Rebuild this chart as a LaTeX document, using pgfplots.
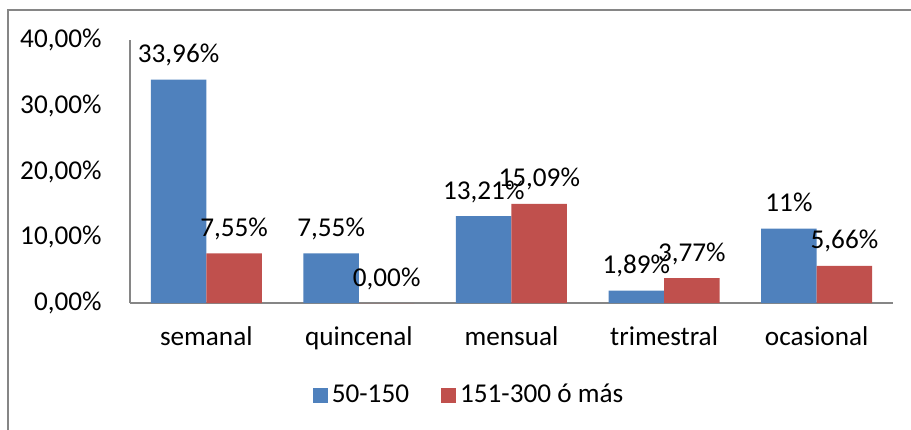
\documentclass[border=0pt]{standalone}
\usepackage{fontspec}
\setmainfont{Carlito}
\usepackage{pgfplots}
\pgfplotsset{compat=1.18}
\definecolor{cblue}{HTML}{4F81BD}
\definecolor{cred}{HTML}{C0504D}
\definecolor{cax}{HTML}{868686}
\newcommand{\fs}{\fontsize{13.6}{16}\selectfont}
\begin{document}
\begin{tikzpicture}
\useasboundingbox (0,0) rectangle (455.5pt,214.5pt);
\draw[cax, line width=0.6pt] (4pt,-20pt) -- (4pt,209.5pt) -- (480pt,209.5pt);
\begin{axis}[
 at={(65pt,63pt)}, anchor=south west,
 scale only axis, width=381.5pt, height=131.5pt,
 ybar=0pt, bar width=27.75pt,
 xmin=-0.5, xmax=4.5, ymin=0, ymax=40,
 xtick={0,1,2,3,4},
 xticklabels={semanal,quincenal,mensual,trimestral,ocasional},
 ytick={0,10,20,30,40},
 yticklabels={{0,00\%},{10,00\%},{20,00\%},{30,00\%},{40,00\%}},
 axis x line*=bottom, axis y line*=left,
 axis line style={cax, line width=0.75pt, -},
 major tick length=0pt,
 tick label style={font=\fs, text=black},
 yticklabel style={anchor=east, inner sep=0pt, xshift=-14pt},
 xticklabel style={anchor=base, inner sep=0pt, yshift=-21pt},
 nodes near coords, point meta=explicit symbolic,
 every node near coord/.append style={font=\fs, anchor=base, inner sep=0pt, yshift=8.5pt, text=black},
 legend columns=2,
 legend style={draw=none, at={(0.4456,-0.35)}, anchor=center, font=\fs,
   /tikz/every even column/.append style={column sep=14pt}},
 legend image code/.code={\fill[#1] (0pt,-3.75pt) rectangle (7.5pt,3.75pt);},
 clip=false,
]
\addplot[fill=cblue, draw=none] coordinates {
 (0,33.96) [33,96\%]
 (1,7.55) [7,55\%]
 (2,13.21) [13,21\%]
 (3,1.89) [1,89\%]
 (4,11.32) [11\%]
};
\addlegendentry{50-150}
\addplot[fill=cred, draw=none] coordinates {
 (0,7.55) [7,55\%]
 (1,0) [0,00\%]
 (2,15.09) [15,09\%]
 (3,3.77) [3,77\%]
 (4,5.66) [5,66\%]
};
\addlegendentry{151-300 ó más}
\end{axis}
\end{tikzpicture}
\end{document}
